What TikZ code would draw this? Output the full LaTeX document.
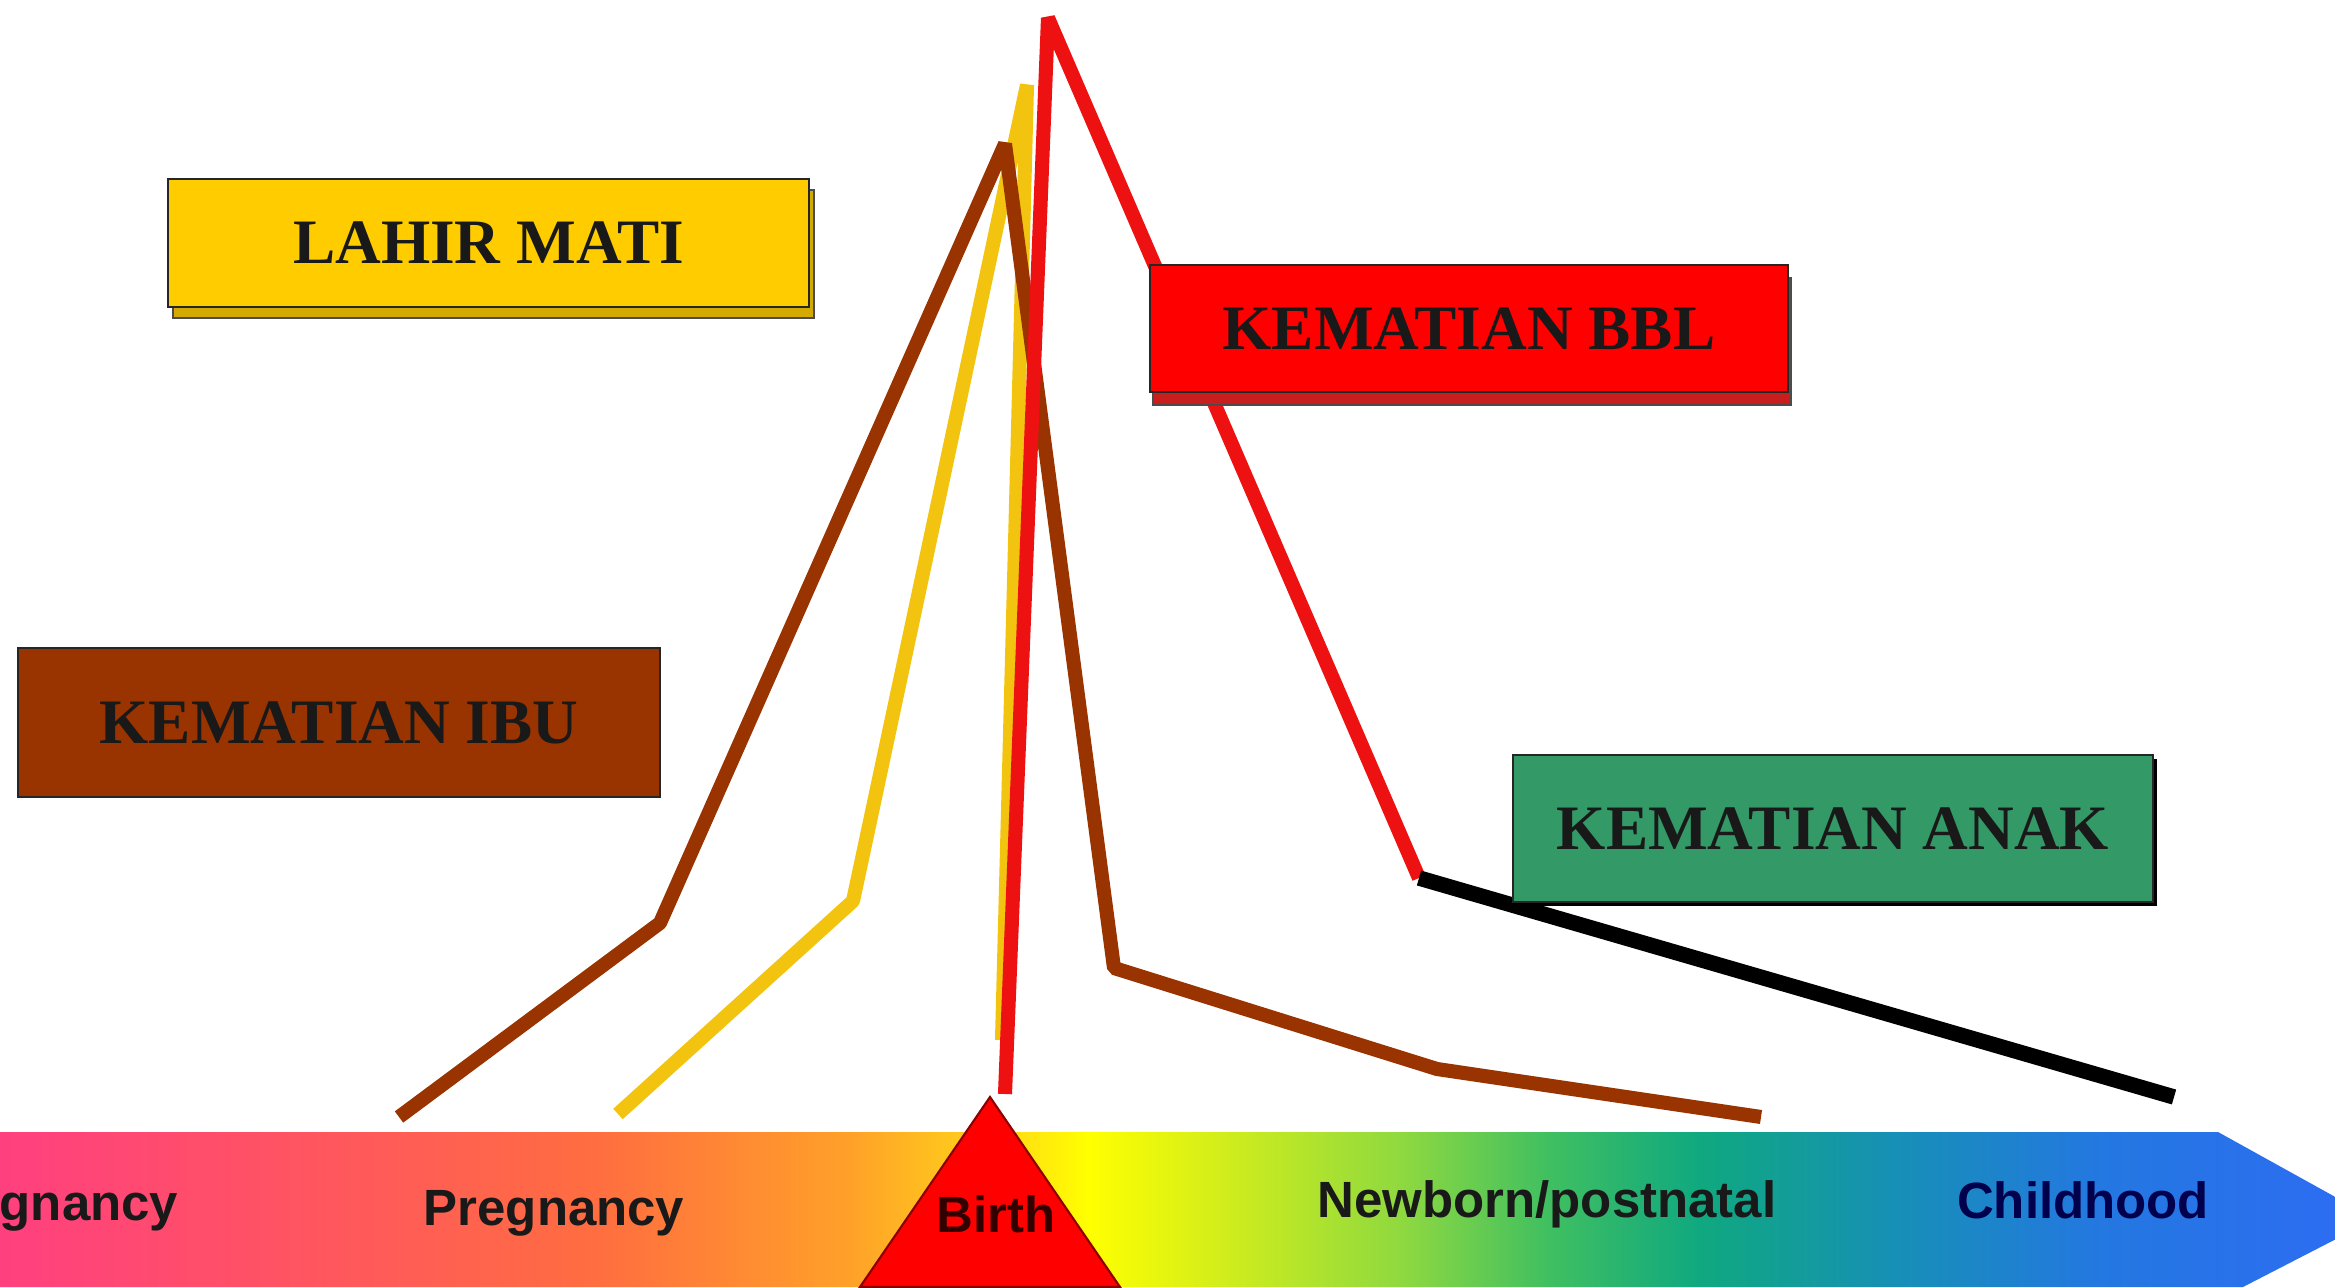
\documentclass[tikz,border=0pt]{standalone}
\usepackage{fontspec}
\setmainfont{Liberation Serif}
\newfontfamily\arialfont{Liberation Sans}
\usepackage{pgf,tikz}
\usetikzlibrary{shadows}

\definecolor{kuning}{HTML}{FFCC00}
\definecolor{kuningtua}{HTML}{D4AA00}
\definecolor{coklat}{HTML}{993300}
\definecolor{merah}{HTML}{FF0000}
\definecolor{merahtua}{HTML}{C81E1E}
\definecolor{hijau}{HTML}{339966}
\definecolor{garismerah}{HTML}{EE1111}
\definecolor{garisemas}{HTML}{F2C40F}

\pgfdeclarehorizontalshading{usia}{100bp}{rgb(0bp)=(1,.25,.5); rgb(25bp)=(1,.25,.5);
  rgb(31.3bp)=(1,.33,.38); rgb(37.6bp)=(1,.43,.25); rgb(42.9bp)=(1,.63,.16);
  rgb(46.1bp)=(1,.85,.09); rgb(47.9bp)=(1,1,0); rgb(50.3bp)=(.85,.94,.09);
  rgb(54.5bp)=(.56,.85,.25); rgb(57.6bp)=(.25,.75,.38); rgb(60.8bp)=(.06,.66,.5);
  rgb(65bp)=(.09,.56,.72); rgb(69.2bp)=(.14,.47,.88); rgb(75bp)=(.18,.42,.96);
  rgb(100bp)=(.18,.42,.96)}

\begin{document}
\begin{tikzpicture}[garis/.style={line width=4pt,line join=bevel},
  kotak/.style={draw=black!85,line width=0.8pt,minimum height=1.28cm,inner sep=0pt,
    font=\fontsize{18}{20}\selectfont\bfseries,text=black!90},
  tahap/.style={anchor=base,font=\arialfont\bfseries\fontsize{14.5}{16}\selectfont}]
%[line cap=round,line join=round,x=1.0cm,y=1.0cm]
\useasboundingbox (0,0) rectangle (23.35,12.87);
\clip (0,0) rectangle (23.35,12.87);
\shade [shading=usia] (0,0) -- (0,1.55) -- (22.18,1.55) -- (23.75,0.68) -- (22.43,0) -- cycle;
\draw [fill=merah,draw=merah!55!black,line width=0.6pt] (8.60,0) -- (9.90,1.90) -- (11.20,0) -- cycle;

\node [tahap,text=black!90] (hamil0) at (0.48,0.67) {Pregnancy};
\node [tahap,text=black!90] (hamil) at (5.54,0.62) {Pregnancy};
\node [tahap,text=merah!20!black] (lahir) at (9.96,0.55) {Birth};
\node [tahap,text=black!90] (neonatal) at (15.47,0.70) {Newborn/postnatal};
\node [tahap,text=blue!30!black] (anak) at (20.83,0.69) {Childhood};

\coordinate (y1) at (6.18,1.73);
\coordinate (y2) at (8.53,3.86);
\coordinate (y3) at (10.27,12.02);
\coordinate (y4) at (10.02,2.47);
\coordinate (b1) at (3.99,1.70);
\coordinate (b2) at (6.60,3.64);
\coordinate (b3) at (10.05,11.43);
\coordinate (b4) at (11.14,3.19);
\coordinate (b5) at (14.37,2.18);
\coordinate (b6) at (17.61,1.70);
\coordinate (r1) at (10.05,1.93);
\coordinate (r2) at (10.48,12.69);
\coordinate (r3) at (14.19,4.09);
\coordinate (k1) at (21.74,1.90);

\draw [garis,garisemas] (y1) -- (y2) -- (y3) -- (y4);
\draw [garis,coklat] (b1) -- (b2) -- (b3) -- (b4) -- (b5) -- (b6);
\draw [garis,garismerah] (r1) -- (r2) -- (r3);
\draw [garis,black,line width=4.4pt] (r3) -- (k1);

\node [kotak,fill=kuning,minimum width=6.41cm,
  general shadow={fill=kuningtua,draw=black!70,shadow xshift=0.05cm,shadow yshift=-0.11cm}]
  (lahirmati) at (4.885,10.44) {LAHIR MATI};
\node [kotak,fill=coklat,minimum width=6.42cm,minimum height=1.49cm] (ibu) at (3.39,5.645) {KEMATIAN IBU};
\node [kotak,fill=merah,minimum width=6.38cm,minimum height=1.27cm,
  general shadow={fill=merahtua,draw=black!70,shadow xshift=0.03cm,shadow yshift=-0.13cm}]
  (bbl) at (14.69,9.585) {KEMATIAN BBL};
\node [kotak,fill=hijau,minimum width=6.40cm,minimum height=1.47cm,
  general shadow={fill=black,shadow xshift=0.04cm,shadow yshift=-0.04cm}]
  (kanak) at (18.33,4.585) {KEMATIAN ANAK};
\end{tikzpicture}
\end{document}
